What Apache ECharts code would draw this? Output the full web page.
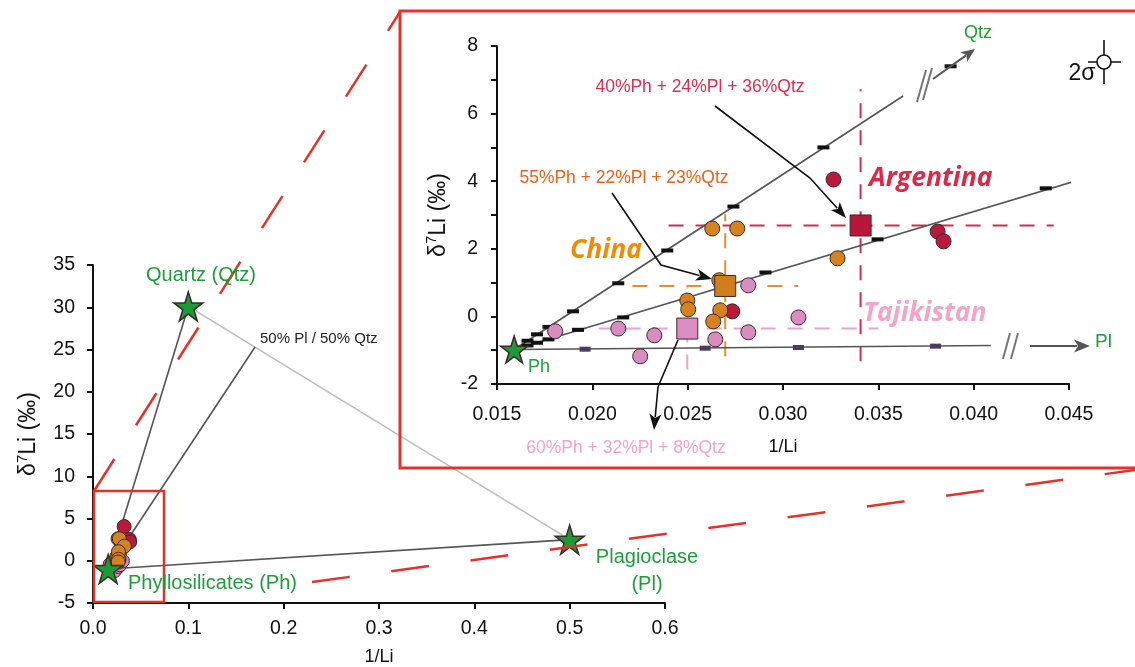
<!DOCTYPE html>
<html><head><meta charset="utf-8">
<script src="https://cdn.jsdelivr.net/npm/echarts@6/dist/echarts.min.js"></script>
<style>html,body{margin:0;padding:0;background:#fff}#c{width:1135px;height:667px}</style>
</head><body><div id="c"></div>
<script>
// ---------- data ----------
const endPh = [0.0159, -0.98];
const endQtz = [0.1, 30.1];
const endPl = [0.5, 2.5];
const mixPlQtz = [0.170, 25.3];

const argentina = [[0.03265, 4.05], [0.03811, 2.51], [0.03842, 2.22], [0.02734, 0.15]];
const china = [[0.02629, 2.60], [0.02760, 2.60], [0.03286, 1.72], [0.02498, 0.47], [0.02503, 0.21],
               [0.02666, 1.07], [0.02671, 0.18], [0.02634, -0.15]];
const tajikistan = [[0.01805, -0.44], [0.02136, -0.36], [0.02325, -0.56], [0.02251, -1.18],
                    [0.02645, -0.68], [0.02818, 0.92], [0.02818, -0.47], [0.03081, -0.03]];

const argMean = [0.03407, 2.69];
const chinaMean = [0.02697, 0.90];
const tajMean = [0.02498, -0.36];
// crosshair extents: [xmin, xmax, ymin, ymax]
const argRange = [0.0240, 0.0442, -1.33, 6.72];
const chinaRange = [0.0221, 0.0308, -1.18, 3.02];
const tajRange = [0.0175, 0.0350, -1.57, 0.86];

// inset mixing curves
const lineToQtz = [endPh, [0.0363, 6.52]];
const lineToMix = [endPh, [0.04525, 3.99]];
const lineToPl = [endPh, [0.0409, -0.86]];
const ticksQtz = [[0.0166, -0.72], [0.0171, -0.53], [0.0177, -0.31], [0.01899, 0.15], [0.02136, 0.98],
                  [0.02393, 1.95], [0.0274, 3.25], [0.03212, 5.0], [0.03879, 7.40]];
const ticksMix = [[0.0166, -0.86], [0.0171, -0.78], [0.0177, -0.68], [0.01925, -0.40], [0.02162, -0.03],
                  [0.02908, 1.30], [0.03496, 2.28], [0.04378, 3.79]];
const ticksPl = [[0.01962, -0.97], [0.02592, -0.94], [0.03081, -0.92], [0.0380, -0.88]];

const mainXTicks = [0, 0.6, 0.1];
const mainYTicks = [-5, 35, 5];
const insetXTicks = [0.015, 0.045, 0.005];
const insetYTicks = [-2, 8, 1];

// ---------- styles ----------
const FONT = 'Liberation Sans, Arial, sans-serif';
const GREEN = '#1f9c3c';
const C_ARG = '#b71a3b', C_CHN = '#d6821f', C_TAJ = '#d98cbf';
const STAR = 'path://M50,0 L61.2,34.5 L97.6,34.5 L68.2,55.9 L79.4,90.5 L50,69.1 L20.6,90.5 L31.8,55.9 L2.4,34.5 L38.8,34.5 Z';

const chart = echarts.init(document.getElementById('c'), null, {renderer: 'canvas'});

function axisCommon(fs, margin, fmt) {
  return {
    axisLine: {onZero: false, lineStyle: {color: '#111', width: 2}},
    axisTick: {inside: false, length: 6, lineStyle: {color: '#111', width: 2}},
    splitLine: {show: false},
    axisLabel: {color: '#111', fontSize: fs, fontFamily: FONT, margin: margin, formatter: fmt},
    nameTextStyle: {color: '#111', fontFamily: FONT}
  };
}
const yName = '{d|δ}{s|7}{d|Li (‰)}';
const yRich = {
  d: {fontSize: 23, fontFamily: FONT, color: '#111', lineHeight: 28},
  s: {fontSize: 15, fontFamily: FONT, color: '#111', lineHeight: 15, verticalAlign: 'top'}
};

function lineSeries(xi, data, color, width, dash, z) {
  return {type: 'line', xAxisIndex: xi, yAxisIndex: xi, data: data, symbol: 'none', silent: true,
          lineStyle: {color: color, width: width, type: dash || 'solid'}, z: z || 2, animation: false};
}
function scatter(xi, data, color, size, symbol, z, bw) {
  return {type: 'scatter', xAxisIndex: xi, yAxisIndex: xi, data: data, symbol: symbol || 'circle',
          symbolSize: size, silent: true, z: z || 5, animation: false,
          itemStyle: {color: color, borderColor: '#3a2a2a', borderWidth: bw === undefined ? 1 : bw, opacity: 1}};
}
function cross(r, mean, color) {
  return [
    lineSeries(1, [[r[0], mean[1]], [r[1], mean[1]]], color, 2, [15, 12], 1),
    lineSeries(1, [[mean[0], r[2]], [mean[0], r[3]]], color, 2, [15, 12], 1)
  ];
}

// ---------- graphics helpers ----------
function arrow(pts, color, width, hl, hw) {
  const n = pts.length;
  const [x1, y1] = pts[n - 2], [x2, y2] = pts[n - 1];
  const L = Math.hypot(x2 - x1, y2 - y1), ux = (x2 - x1) / L, uy = (y2 - y1) / L;
  const bx = x2 - ux * hl, by = y2 - uy * hl;
  const shaft = pts.slice(0, n - 1).concat([[bx + ux * 3, by + uy * 3]]);
  return [
    {type: 'polyline', shape: {points: shaft}, style: {stroke: color, lineWidth: width, fill: null}, z: 50},
    {type: 'polygon', shape: {points: [[x2, y2], [bx - uy * hw / 2, by + ux * hw / 2], [bx + ux * hl * 0.25, by + uy * hl * 0.25], [bx + uy * hw / 2, by - ux * hw / 2]]},
     style: {fill: color}, z: 50}
  ];
}
function txt(s, x, y, color, size, align, extra) {
  return Object.assign({type: 'text', z: 60, silent: true, style: Object.assign({
    text: s, x: x, y: y, fill: color, fontSize: size, fontFamily: FONT,
    textAlign: align || 'center', textVerticalAlign: 'middle', align: align || 'center', verticalAlign: 'middle'
  }, extra || {})});
}
function ln(x1, y1, x2, y2, color, w, dash) {
  return {type: 'line', z: 40, silent: true, shape: {x1, y1, x2, y2},
          style: {stroke: color, lineWidth: w, lineDash: dash || null}};
}

const RED = '#e2332b';
const BOLDIT = {fontFamily: 'Open Sans', fontWeight: 'bold', fontStyle: 'italic'};
const graphics = [
  {type: 'rect', z: 30, silent: true, shape: {x: 94, y: 491, width: 70, height: 111},
   style: {fill: null, stroke: RED, lineWidth: 2.5}},
  {type: 'rect', z: 30, silent: true, shape: {x: 400, y: 11, width: 760, height: 457},
   style: {fill: null, stroke: RED, lineWidth: 3}},
  ln(94, 491, 400, 12, RED, 2.5, [38, 40]),
  ln(312, 582, 1135, 470, RED, 2.5, [38, 42]),
  ln(917, 102, 926, 70, '#777', 2), ln(923, 100, 932, 68, '#777', 2),
  ln(1003, 359, 1010, 333, '#777', 2), ln(1011, 359, 1018, 333, '#777', 2),
  ...arrow([[933, 79], [975, 49]], '#555', 2, 14, 12),
  ...arrow([[1030, 346], [1090, 346]], '#555', 2, 16, 13),
  ...arrow([[715, 106], [810, 178], [846, 218]], '#111', 1.6, 16, 12),
  ...arrow([[612, 193], [661, 265], [712, 279]], '#111', 1.6, 16, 12),
  ...arrow([[678, 340], [658, 387], [654, 430]], '#111', 1.6, 16, 12),
  ln(1104, 40, 1104, 84, '#111', 1.6), ln(1088, 62, 1121, 62, '#111', 1.6),
  {type: 'circle', z: 45, silent: true, shape: {cx: 1104, cy: 62, r: 7}, style: {fill: '#fff', stroke: '#111', lineWidth: 1.6}},
  txt('2σ', 1082, 74, '#111', 23),
  txt('Quartz (Qtz)', 201, 275, GREEN, 20),
  txt('50% Pl / 50% Qtz', 260, 339, '#222', 15, 'left'),
  txt('Phyllosilicates (Ph)', 128, 583, GREEN, 20, 'left'),
  txt('Plagioclase', 647, 557, GREEN, 20),
  txt('(Pl)', 647, 584, GREEN, 20),
  txt('Qtz', 978, 33, GREEN, 18),
  txt('Pl', 1095, 342, GREEN, 19, 'left'),
  txt('Ph', 528, 367, GREEN, 18, 'left'),
  txt('40%Ph + 24%Pl + 36%Qtz', 700, 87, '#d9304f', 17.5),
  txt('55%Ph + 22%Pl + 23%Qtz', 624, 178, '#e8621c', 17.5),
  txt('60%Ph + 32%Pl + 8%Qtz', 626, 448, '#f2a5c9', 17.5),
  txt('Argentina', 869, 178, '#d92a4a', 26.5, 'left', BOLDIT),
  txt('China', 606, 250, '#f08c00', 26.5, 'center', BOLDIT),
  txt('Tajikistan', 863, 313, '#f4a3c9', 26.5, 'left', BOLDIT)
];

const fmtMainX = v => v.toFixed(1);
const fmtInsetX = v => v.toFixed(3);
const fmtInt = v => String(Math.round(v));
const fmtEven = v => (Math.round(v) % 2 === 0 ? String(Math.round(v)) : '');

const option = {
  backgroundColor: '#fff',
  animation: false,
  grid: [
    {left: 93, top: 265, width: 572, height: 338, containLabel: false, outerBoundsMode: 'none'},
    {left: 497, top: 46, width: 572, height: 338, containLabel: false, outerBoundsMode: 'none'}
  ],
  xAxis: [
    Object.assign(axisCommon(19.5, 16, fmtMainX), {gridIndex: 0, type: 'value', min: mainXTicks[0], max: mainXTicks[1], interval: mainXTicks[2],
      name: '1/Li', nameLocation: 'middle', nameGap: 45, nameTextStyle: {color: '#111', fontFamily: FONT, fontSize: 18}}),
    Object.assign(axisCommon(19.5, 21, fmtInsetX), {gridIndex: 1, type: 'value', min: insetXTicks[0], max: insetXTicks[1], interval: insetXTicks[2],
      name: '1/Li', nameLocation: 'middle', nameGap: 54, nameTextStyle: {color: '#111', fontFamily: FONT, fontSize: 18}})
  ],
  yAxis: [
    Object.assign(axisCommon(19.5, 18, fmtInt), {gridIndex: 0, type: 'value', min: mainYTicks[0], max: mainYTicks[1], interval: mainYTicks[2],
      name: yName, nameLocation: 'middle', nameGap: 50, nameTextStyle: {rich: yRich}}),
    Object.assign(axisCommon(19.5, 19, fmtEven), {gridIndex: 1, type: 'value', min: insetYTicks[0], max: insetYTicks[1], interval: insetYTicks[2],
      name: yName, nameLocation: 'middle', nameGap: 44, nameTextStyle: {rich: yRich}})
  ],
  graphic: graphics,
  series: [
    lineSeries(0, [endQtz, endPl], '#bdbdbd', 1.6, null, 2),
    lineSeries(0, [endPh, endQtz], '#555', 1.6, null, 2),
    lineSeries(0, [endPh, mixPlQtz], '#555', 1.6, null, 2),
    lineSeries(0, [endPh, endPl], '#555', 1.6, null, 2),
    scatter(0, tajikistan, C_TAJ, 14, 'circle', 5),
    scatter(0, argentina, C_ARG, 14, 'circle', 6),
    scatter(0, china, C_CHN, 14, 'circle', 7),
    scatter(0, [endPh, endQtz, endPl], '#1d9a38', 29, STAR, 9, 1.5),
    ...cross(argRange, argMean, '#cc2f52'),
    ...cross(chinaRange, chinaMean, '#e0922e'),
    ...cross(tajRange, tajMean, '#e4a6cb'),
    lineSeries(1, lineToQtz, '#555', 1.6, null, 2),
    lineSeries(1, lineToMix, '#555', 1.6, null, 2),
    lineSeries(1, lineToPl, '#555', 1.6, null, 2),
    scatter(1, ticksQtz.concat(ticksMix), '#111', [12, 4], 'rect', 3, 0),
    scatter(1, ticksPl, '#4a3c5c', [11, 5], 'rect', 3, 0),
    scatter(1, tajikistan, C_TAJ, 15, 'circle', 5),
    scatter(1, argentina, C_ARG, 15, 'circle', 6),
    scatter(1, china, C_CHN, 15, 'circle', 7),
    scatter(1, [tajMean], '#d98dc0', 21, 'rect', 8),
    scatter(1, [chinaMean], '#d07d1b', 21, 'rect', 8),
    scatter(1, [argMean], '#b8163a', 21, 'rect', 8),
    scatter(1, [endPh], '#1d9a38', 27, STAR, 9, 1.5)
  ]
};
chart.setOption(option);
</script>
</body></html>
